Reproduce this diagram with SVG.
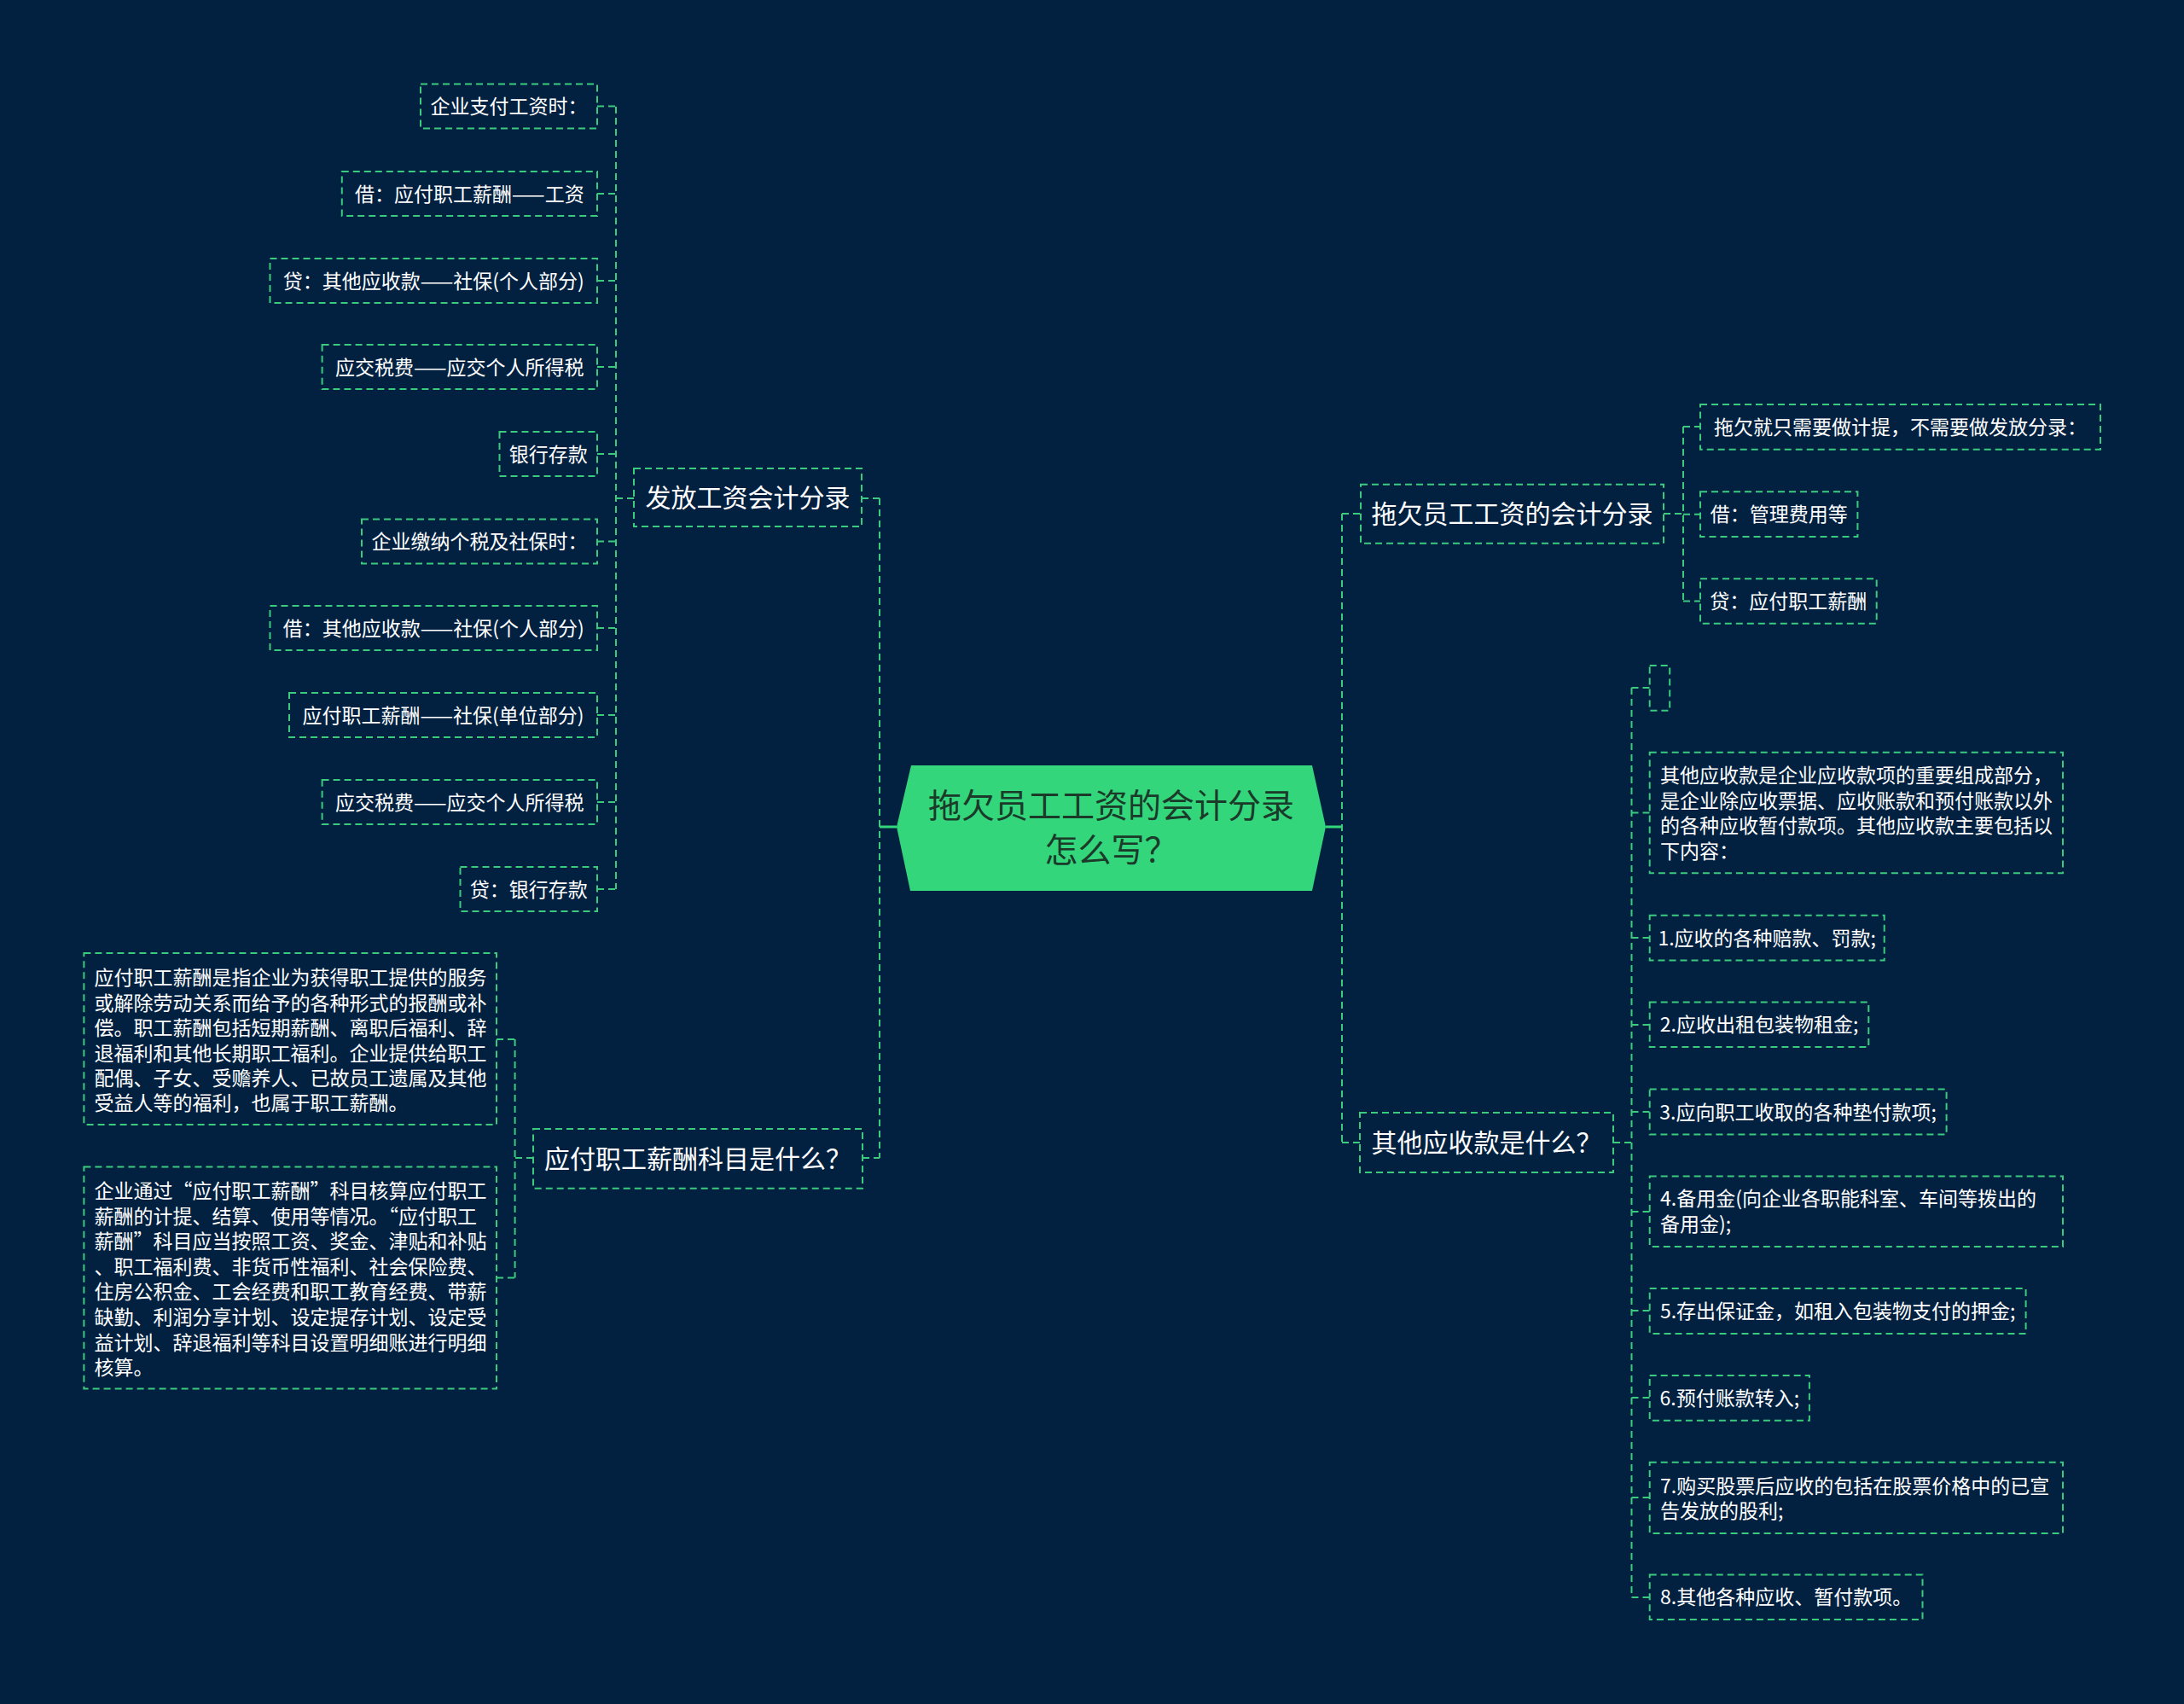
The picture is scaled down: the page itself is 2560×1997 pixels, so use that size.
<svg xmlns="http://www.w3.org/2000/svg" width="2560" height="1997" viewBox="0 0 2560 1997">
<defs>
<style>
.bx{fill:none;stroke:#3acb7f;stroke-width:2;stroke-dasharray:8 5}
.ln{fill:none;stroke:#3acb7f;stroke-width:2;stroke-dasharray:8 5}
.sl{fill:none;stroke:#33d67a;stroke-width:3}
.t{font-family:"Noto Sans CJK SC","Noto Sans",sans-serif;fill:#ffffff;font-size:23px}
.m{text-anchor:middle}
.tm{font-size:30px}
.tc{font-family:"Noto Sans CJK SC","Noto Sans",sans-serif;fill:#1b3a2a;font-size:39px;text-anchor:middle}
</style>
</defs>
<rect x="0" y="0" width="2560" height="1997" fill="#022140"/>

<g id="connectors">
<path class="sl" d="M1051 969 H1031"/>
<path class="sl" d="M1554 969 H1573"/>
<path class="ln" d="M1031 584 V1357"/>
<path class="ln" d="M1010 584 H1031 M1011 1357 H1031"/>
<path class="ln" d="M722 125 V1042"/>
<path class="ln" d="M743 584 H722"/>
<path class="ln" d="M700 124.6 H722 M700 227 H722 M700 329 H722 M700 430 H722 M700 532 H722 M700 634.5 H722 M700 736 H722 M700 838 H722 M700 940 H722 M700 1042 H722"/>
<path class="ln" d="M603.6 1218 V1497.5"/>
<path class="ln" d="M625 1357 H603.6 M582 1218 H603.6 M582 1497.5 H603.6"/>
<path class="ln" d="M1573 602 V1339"/>
<path class="ln" d="M1573 602 H1595 M1573 1339 H1594"/>
<path class="ln" d="M1973 500 V704.5"/>
<path class="ln" d="M1950 602 H1973 M1973 500 H1993 M1973 602.7 H1993 M1973 704.5 H1993"/>
<path class="ln" d="M1912.5 806 V1872"/>
<path class="ln" d="M1891 1339 H1912.5 M1912.5 806 H1933.7 M1912.5 952.5 H1933.7 M1912.5 1099 H1933.7 M1912.5 1201 H1933.7 M1912.5 1303 H1933.7 M1912.5 1420 H1933.7 M1912.5 1536 H1933.7 M1912.5 1638 H1933.7 M1912.5 1755 H1933.7 M1912.5 1872 H1933.7"/>
</g>

<g id="center">
<polygon points="1068,897 1538,897 1554,969 1538,1044 1067,1044 1051,969" fill="#33d67a"/>
<text class="tc" x="1302.5" y="957.8">拖欠员工工资的会计分录</text>
<text class="tc" x="1302.5" y="1009.8">怎么写？</text>
</g>

<g id="b-fafang">
<rect class="bx" x="743" y="549" width="267" height="68"/>
<text class="t tm m" x="876.5" y="594.4">发放工资会计分录</text>
</g>
<g id="n-l1"><rect class="bx" x="493" y="98.6" width="207" height="52"/><text class="t m" x="596.5" y="133.1">企业支付工资时：</text></g>
<g id="n-l2"><rect class="bx" x="400.8" y="201" width="299.2" height="52"/><text class="t m" x="550.4" y="235.5">借：应付职工薪酬——工资</text></g>
<g id="n-l3"><rect class="bx" x="316.5" y="303" width="383.5" height="52"/><text class="t m" x="508.3" y="337.5">贷：其他应收款——社保(个人部分)</text></g>
<g id="n-l4"><rect class="bx" x="377.6" y="404" width="322.4" height="52"/><text class="t m" x="538.8" y="438.5">应交税费——应交个人所得税</text></g>
<g id="n-l5"><rect class="bx" x="585.5" y="506" width="114.5" height="52"/><text class="t m" x="642.8" y="540.5">银行存款</text></g>
<g id="n-l6"><rect class="bx" x="424" y="608.5" width="276" height="52"/><text class="t m" x="562" y="643">企业缴纳个税及社保时：</text></g>
<g id="n-l7"><rect class="bx" x="316.5" y="710" width="383.5" height="52"/><text class="t m" x="508.3" y="744.5">借：其他应收款——社保(个人部分)</text></g>
<g id="n-l8"><rect class="bx" x="339" y="812" width="361" height="52"/><text class="t m" x="519.5" y="846.5">应付职工薪酬——社保(单位部分)</text></g>
<g id="n-l9"><rect class="bx" x="377.6" y="914" width="322.4" height="52"/><text class="t m" x="538.8" y="948.5">应交税费——应交个人所得税</text></g>
<g id="n-l10"><rect class="bx" x="539.5" y="1016" width="160.5" height="52"/><text class="t m" x="619.8" y="1050.5">贷：银行存款</text></g>

<g id="b-yingfu">
<rect class="bx" x="625" y="1323" width="386" height="69.7"/>
<text class="t tm m" x="818" y="1369.4">应付职工薪酬科目是什么？</text>
</g>
<g id="n-yf1">
<rect class="bx" x="98.4" y="1117" width="483.6" height="201"/>
<text class="t" x="110.5" y="1154.3">应付职工薪酬是指企业为获得职工提供的服务</text>
<text class="t" x="110.5" y="1183.7">或解除劳动关系而给予的各种形式的报酬或补</text>
<text class="t" x="110.5" y="1213.1">偿。职工薪酬包括短期薪酬、离职后福利、辞</text>
<text class="t" x="110.5" y="1242.5">退福利和其他长期职工福利。企业提供给职工</text>
<text class="t" x="110.5" y="1271.9">配偶、子女、受赡养人、已故员工遗属及其他</text>
<text class="t" x="110.5" y="1301.3">受益人等的福利，也属于职工薪酬。</text>
</g>
<g id="n-yf2">
<rect class="bx" x="98.4" y="1367.6" width="483.6" height="260"/>
<text class="t" x="110.5" y="1404">企业通过“应付职工薪酬”科目核算应付职工</text>
<text class="t" x="110.5" y="1433.6">薪酬的计提、结算、使用等情况。“应付职工</text>
<text class="t" x="110.5" y="1463.2">薪酬”科目应当按照工资、奖金、津贴和补贴</text>
<text class="t" x="110.5" y="1492.8">、职工福利费、非货币性福利、社会保险费、</text>
<text class="t" x="110.5" y="1522.4">住房公积金、工会经费和职工教育经费、带薪</text>
<text class="t" x="110.5" y="1552">缺勤、利润分享计划、设定提存计划、设定受</text>
<text class="t" x="110.5" y="1581.6">益计划、辞退福利等科目设置明细账进行明细</text>
<text class="t" x="110.5" y="1611.2">核算。</text>
</g>

<g id="b-tuoqian">
<rect class="bx" x="1595" y="567.7" width="355" height="69"/>
<text class="t tm m" x="1772.5" y="613.4">拖欠员工工资的会计分录</text>
</g>
<g id="n-r1"><rect class="bx" x="1993" y="474" width="469" height="52.7"/><text class="t m" x="2227.5" y="508.8">拖欠就只需要做计提，不需要做发放分录：</text></g>
<g id="n-r2"><rect class="bx" x="1993" y="576.3" width="184.4" height="52.7"/><text class="t m" x="2085.2" y="611.2">借：管理费用等</text></g>
<g id="n-r3"><rect class="bx" x="1993" y="678.3" width="206.7" height="52.4"/><text class="t m" x="2096.3" y="713">贷：应付职工薪酬</text></g>

<g id="b-qita">
<rect class="bx" x="1594" y="1304" width="297" height="70"/>
<text class="t tm m" x="1742.5" y="1350.4">其他应收款是什么？</text>
</g>
<g id="n-q0"><rect class="bx" x="1933.7" y="780" width="23.5" height="52.7"/></g>
<g id="n-q1">
<rect class="bx" x="1933.7" y="881.7" width="484.3" height="141.6"/>
<text class="t" x="1946" y="917">其他应收款是企业应收款项的重要组成部分，</text>
<text class="t" x="1946" y="946.6">是企业除应收票据、应收账款和预付账款以外</text>
<text class="t" x="1946" y="976.2">的各种应收暂付款项。其他应收款主要包括以</text>
<text class="t" x="1946" y="1005.8">下内容：</text>
</g>
<g id="n-q2"><rect class="bx" x="1933.7" y="1072.7" width="275" height="52.8"/><text class="t m" x="2071.2" y="1107.6">1.应收的各种赔款、罚款;</text></g>
<g id="n-q3"><rect class="bx" x="1933.7" y="1174.5" width="256.6" height="52.5"/><text class="t m" x="2062" y="1209.3">2.应收出租包装物租金;</text></g>
<g id="n-q4"><rect class="bx" x="1933.7" y="1276.6" width="347.9" height="52.9"/><text class="t m" x="2107.6" y="1311.5">3.应向职工收取的各种垫付款项;</text></g>
<g id="n-q5">
<rect class="bx" x="1933.7" y="1378.5" width="484.3" height="82.5"/>
<text class="t" x="1946" y="1413.2">4.备用金(向企业各职能科室、车间等拨出的</text>
<text class="t" x="1946" y="1442.8">备用金);</text>
</g>
<g id="n-q6"><rect class="bx" x="1933.7" y="1510" width="440.9" height="53"/><text class="t m" x="2154.2" y="1545">5.存出保证金，如租入包装物支付的押金;</text></g>
<g id="n-q7"><rect class="bx" x="1933.7" y="1612" width="187.2" height="52.8"/><text class="t m" x="2027.3" y="1646.9">6.预付账款转入;</text></g>
<g id="n-q8">
<rect class="bx" x="1933.7" y="1713.7" width="484.3" height="83.3"/>
<text class="t" x="1946" y="1749.6">7.购买股票后应收的包括在股票价格中的已宣</text>
<text class="t" x="1946" y="1779.2">告发放的股利;</text>
</g>
<g id="n-q9"><rect class="bx" x="1933.7" y="1845.4" width="319.8" height="52.6"/><text class="t m" x="2093.6" y="1880.2">8.其他各种应收、暂付款项。</text></g>
</svg>
